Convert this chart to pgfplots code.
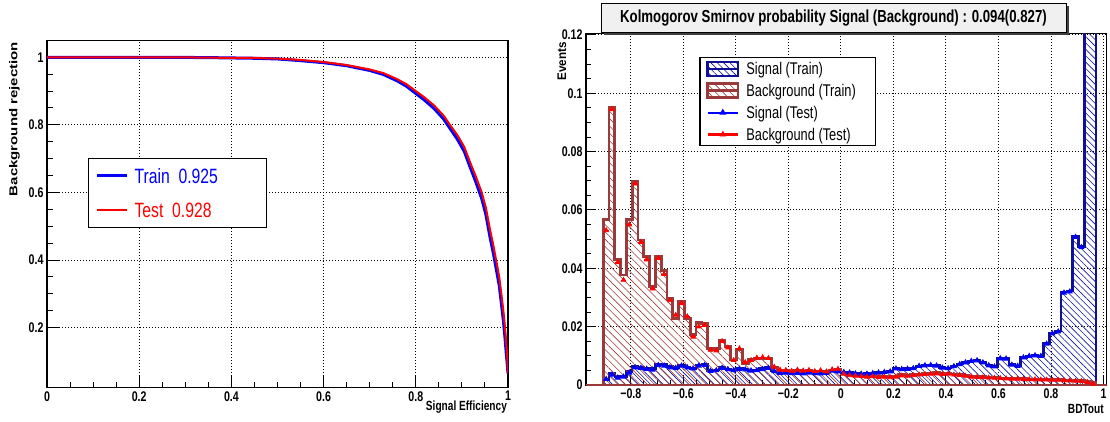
\documentclass[border=0pt]{standalone}
\usepackage{fontspec}
\setmainfont{Liberation Sans}[FakeStretch=0.76]
\newfontfamily\rotfont{Liberation Sans}[FakeStretch=1.316]
\newfontfamily\rotfontb{Liberation Sans}[FakeStretch=0.93]
\usepackage{pgfplots}
\pgfplotsset{compat=1.18}
\usepackage{pgfplotstable}
\usetikzlibrary{patterns.meta,shadows}

\definecolor{sigline}{RGB}{16,16,150}
\definecolor{bkgline}{RGB}{155,58,58}
\definecolor{sigtest}{RGB}{0,0,255}
\definecolor{bkgtest}{RGB}{255,0,0}

\newcommand\tickfont{\fontsize{14}{14}\selectfont\bfseries}
\newcommand\xlabfont{\fontsize{13.3}{13.3}\selectfont\bfseries}
\newcommand\ylabfont{\rotfont\fontsize{11.4}{11.4}\selectfont\bfseries}

% BDT response histograms: left bin edge, train / test contents, bin centre
\pgfplotstableread{
xl      sig     bkg     sigT    bkgT    xc
-0.9707 0       0       nan     nan     nan
-0.9050 0.0017  0.0568  0.0020  0.0530  -0.8940
-0.8829 0.0040  0.0952  0.0035  0.0945  -0.8719
-0.8609 0.0029  0.0431  0.0025  0.0420  -0.8498
-0.8388 0.0030  0.0377  0.0028  0.0360  -0.8278
-0.8167 0.0046  0.0566  0.0042  0.0550  -0.8057
-0.7947 0.0063  0.0697  0.0060  0.0690  -0.7836
-0.7726 0.0060  0.0497  0.0058  0.0490  -0.7616
-0.7505 0.0057  0.0440  0.0055  0.0430  -0.7395
-0.7284 0.0056  0.0337  0.0052  0.0330  -0.7174
-0.7064 0.0070  0.0442  0.0068  0.0435  -0.6953
-0.6843 0.0070  0.0392  0.0066  0.0380  -0.6733
-0.6622 0.0063  0.0297  0.0060  0.0290  -0.6512
-0.6402 0.0060  0.0229  0.0058  0.0240  -0.6291
-0.6181 0.0069  0.0286  0.0066  0.0280  -0.6071
-0.5960 0.0062  0.0229  0.0060  0.0235  -0.5850
-0.5740 0.0057  0.0174  0.0056  0.0165  -0.5629
-0.5519 0.0069  0.0214  0.0066  0.0200  -0.5409
-0.5298 0.0070  0.0212  0.0068  0.0205  -0.5188
-0.5077 0.0050  0.0126  0.0048  0.0120  -0.4967
-0.4857 0.0051  0.0124  0.0050  0.0118  -0.4746
-0.4636 0.0060  0.0154  0.0058  0.0150  -0.4526
-0.4415 0.0055  0.0131  0.0054  0.0128  -0.4305
-0.4195 0.0052  0.0086  0.0050  0.0085  -0.4084
-0.3974 0.0057  0.0122  0.0055  0.0125  -0.3864
-0.3753 0.0055  0.0074  0.0053  0.0078  -0.3643
-0.3533 0.0050  0.0088  0.0049  0.0085  -0.3422
-0.3312 0.0052  0.0091  0.0050  0.0093  -0.3202
-0.3091 0.0056  0.0092  0.0054  0.0095  -0.2981
-0.2870 0.0060  0.0090  0.0058  0.0092  -0.2760
-0.2650 0.0048  0.0060  0.0047  0.0062  -0.2539
-0.2429 0.0042  0.0050  0.0041  0.0052  -0.2319
-0.2208 0.0043  0.0049  0.0042  0.0051  -0.2098
-0.1988 0.0041  0.0046  0.0040  0.0048  -0.1877
-0.1767 0.0042  0.0050  0.0041  0.0052  -0.1657
-0.1546 0.0040  0.0047  0.0039  0.0049  -0.1436
-0.1326 0.0043  0.0049  0.0042  0.0051  -0.1215
-0.1105 0.0041  0.0045  0.0040  0.0047  -0.0995
-0.0884 0.0040  0.0048  0.0039  0.0050  -0.0774
-0.0663 0.0042  0.0044  0.0041  0.0046  -0.0553
-0.0443 0.0050  0.0050  0.0049  0.0053  -0.0332
-0.0222 0.0047  0.0052  0.0046  0.0055  -0.0112
 0.0000 0.0045  0.0040  0.0044  0.0038  0.0109
 0.0219 0.0043  0.0035  0.0042  0.0033  0.0330
 0.0440 0.0040  0.0033  0.0039  0.0031  0.0550
 0.0661 0.0038  0.0032  0.0038  0.0030  0.0771
 0.0882 0.0039  0.0030  0.0038  0.0028  0.0992
 0.1102 0.0041  0.0031  0.0040  0.0029  0.1212
 0.1323 0.0043  0.0029  0.0042  0.0027  0.1433
 0.1544 0.0045  0.0030  0.0044  0.0028  0.1654
 0.1764 0.0047  0.0028  0.0046  0.0026  0.1875
 0.1985 0.0057  0.0030  0.0056  0.0028  0.2095
 0.2206 0.0055  0.0035  0.0054  0.0032  0.2316
 0.2426 0.0056  0.0034  0.0055  0.0031  0.2537
 0.2647 0.0058  0.0036  0.0057  0.0033  0.2757
 0.2868 0.0066  0.0038  0.0065  0.0035  0.2978
 0.3089 0.0068  0.0040  0.0067  0.0037  0.3199
 0.3309 0.0069  0.0041  0.0068  0.0038  0.3419
 0.3530 0.0067  0.0042  0.0066  0.0039  0.3640
 0.3751 0.0060  0.0040  0.0059  0.0037  0.3861
 0.3971 0.0058  0.0041  0.0057  0.0038  0.4082
 0.4192 0.0065  0.0038  0.0064  0.0035  0.4302
 0.4413 0.0072  0.0037  0.0071  0.0034  0.4523
 0.4633 0.0078  0.0033  0.0077  0.0031  0.4744
 0.4854 0.0083  0.0030  0.0082  0.0028  0.4964
 0.5075 0.0085  0.0029  0.0084  0.0027  0.5185
 0.5296 0.0078  0.0028  0.0077  0.0026  0.5406
 0.5516 0.0068  0.0026  0.0067  0.0025  0.5626
 0.5737 0.0064  0.0025  0.0063  0.0024  0.5847
 0.5958 0.0092  0.0024  0.0091  0.0023  0.6068
 0.6178 0.0091  0.0023  0.0090  0.0022  0.6289
 0.6399 0.0070  0.0022  0.0069  0.0021  0.6509
 0.6620 0.0066  0.0022  0.0065  0.0021  0.6730
 0.6840 0.0095  0.0021  0.0094  0.0020  0.6951
 0.7061 0.0100  0.0020  0.0099  0.0019  0.7171
 0.7282 0.0102  0.0020  0.0101  0.0019  0.7392
 0.7503 0.0100  0.0019  0.0099  0.0018  0.7613
 0.7723 0.0143  0.0019  0.0141  0.0018  0.7833
 0.7944 0.0178  0.0018  0.0176  0.0017  0.8054
 0.8165 0.0185  0.0018  0.0183  0.0017  0.8275
 0.8385 0.0318  0.0017  0.0316  0.0016  0.8496
 0.8606 0.0322  0.0016  0.0320  0.0015  0.8716
 0.8827 0.0509  0.0016  0.0507  0.0014  0.8937
 0.9047 0.0474  0.0015  0.0472  0.0013  0.9158
 0.9268 0.2000  0.0013  nan     0.0010  0.9378
 0.9489 0.2000  0.0010  nan     0.0004  0.9599
 0.9710 0       0       nan     nan     nan
 1.0114 0       0       nan     nan     nan
}\bdt

\begin{document}
\begin{tikzpicture}
\useasboundingbox (0,0) rectangle (1110pt,421pt);

% ---------------- ROC curve ----------------
\begin{axis}[
  at={(47pt,33.3pt)}, anchor=south west,
  scale only axis, width=461pt, height=347pt,
  xmin=0, xmax=1, ymin=0.0225, ymax=1.049,
  xtick={0,0.2,0.4,0.6,0.8,1}, ytick={0.2,0.4,0.6,0.8,1},
  minor x tick num=3, minor y tick num=3,
  xtick pos=bottom, ytick pos=left, tick align=inside,
  major tick length=12pt, minor tick length=6pt,
  tick style={black, line width=1pt},
  grid=major,
  major grid style={black, line width=1pt, dash pattern=on 1pt off 2pt},
  axis line style={line width=1.5pt},
  /pgf/number format/assume math mode=true,
  ticklabel style={font=\tickfont},
  xlabel={Signal Efficiency},
  xlabel style={at={(axis description cs:0.998,-0.066)}, anchor=base east,
                inner sep=0pt, font=\xlabfont},
  ylabel={Background rejection},
  ylabel style={at={(axis description cs:-0.0705,0.997)}, anchor=east,
                inner sep=0pt, font=\ylabfont},
  legend style={at={(0.0889,0.662)}, anchor=north west, draw=black,
                line width=1.2pt, fill=white, inner xsep=7pt, inner ysep=0pt,
                row sep=0pt, column sep=6pt,
                nodes={inner sep=0pt, anchor=west, text height=24.5pt, text depth=10pt},
                font=\fontsize{20.7}{20.7}\selectfont},
  legend image code/.code={\draw[#1] (0pt,0pt) -- (30pt,0pt);},
]
\addplot[sigtest, line width=3pt] coordinates {
 (0,1.000) (0.05,1.000) (0.10,1.000) (0.15,1.000) (0.20,1.000) (0.25,1.000)
 (0.30,0.9995) (0.35,0.999) (0.40,0.998) (0.45,0.997) (0.50,0.995)
 (0.55,0.990) (0.60,0.984) (0.65,0.975) (0.70,0.961) (0.73,0.949)
 (0.76,0.930) (0.78,0.914) (0.80,0.893) (0.82,0.872) (0.84,0.848)
 (0.86,0.818) (0.874,0.790) (0.89,0.758) (0.905,0.722) (0.9176,0.676)
 (0.93,0.632) (0.943,0.582) (0.952,0.535) (0.961,0.468) (0.968,0.422)
 (0.975,0.370) (0.981,0.325) (0.986,0.268) (0.990,0.220) (0.9935,0.170)
 (0.9965,0.120) (0.9985,0.090) (1.0,0.065)};
\addlegendentry{\makebox[125pt][l]{\textcolor{sigtest}{Train\ \ 0.925}}}
\addplot[bkgtest, line width=2pt] coordinates {
 (0,1.000) (0.05,1.000) (0.10,1.000) (0.15,1.000) (0.20,1.000) (0.25,1.000)
 (0.30,0.9995) (0.35,0.999) (0.40,0.998) (0.45,0.998) (0.50,0.996)
 (0.55,0.992) (0.60,0.986) (0.65,0.977) (0.70,0.964) (0.73,0.953)
 (0.76,0.935) (0.78,0.920) (0.80,0.900) (0.82,0.880) (0.84,0.857)
 (0.86,0.828) (0.874,0.800) (0.89,0.770) (0.905,0.735) (0.9176,0.690)
 (0.93,0.648) (0.943,0.600) (0.952,0.555) (0.961,0.490) (0.968,0.445)
 (0.975,0.395) (0.981,0.350) (0.986,0.295) (0.990,0.250) (0.9935,0.200)
 (0.9965,0.150) (0.9985,0.110) (1.0,0.065)};
\addlegendentry{\makebox[125pt][l]{\textcolor{bkgtest}{Test\ \ 0.928}}}
\end{axis}

% ---------------- BDT output ----------------
\begin{axis}[
  at={(586pt,36pt)}, anchor=south west,
  scale only axis, width=520.5pt, height=351.5pt,
  xmin=-0.9707, xmax=1.0114, ymin=0, ymax=0.1205,
  xtick={-0.8,-0.6,-0.4,-0.2,0,0.2,0.4,0.6,0.8,1},
  xticklabels={−0.8,−0.6,−0.4,−0.2,0,0.2,0.4,0.6,0.8,1},
  ytick={0,0.02,0.04,0.06,0.08,0.1,0.12},
  yticklabels={0,0.02,0.04,0.06,0.08,0.1,0.12},
  minor x tick num=3, minor y tick num=3,
  xtick pos=bottom, ytick pos=left, tick align=inside,
  major tick length=10pt, minor tick length=5pt,
  tick style={black, line width=1pt},
  grid=major,
  major grid style={black, line width=1pt, dash pattern=on 1pt off 2pt},
  axis line style={line width=1.5pt},
  ticklabel style={font=\tickfont},
  xlabel={BDTout},
  xlabel style={at={(axis description cs:0.995,-0.0797)}, anchor=base east,
                inner sep=0pt, font=\xlabfont},
  ylabel={Events},
  ylabel style={at={(axis description cs:-0.0462,0.976)}, anchor=east,
                inner sep=0pt, font=\rotfontb\fontsize{12.5}{12.5}\selectfont\bfseries},
  title={Kolmogorov Smirnov probability Signal (Background) : 0.094(0.827)},
  every axis title/.style={at={(axis description cs:0.4755,1.0427)}, anchor=center,
               draw=black, line width=1pt, fill=black!6,
               minimum width=465pt, minimum height=29pt, inner sep=0pt,
               font=\fontsize{17.4}{17.4}\selectfont\bfseries,
               drop shadow={shadow xshift=2.5pt, shadow yshift=-2.5pt,
                            fill=black!75, opacity=1}},
  legend style={at={(0.2179,0.9323)}, anchor=north west, draw=black,
                line width=1.2pt, fill=white, inner xsep=6.2pt, inner ysep=0pt,
                row sep=0pt, column sep=7pt,
                nodes={inner sep=0pt, anchor=west, text height=17.05pt, text depth=4.85pt},
                font=\fontsize{16.9}{16.9}\selectfont},
]
% signal, training sample
\addplot[const plot mark left, draw=sigline, line width=2.5pt,
  pattern={Lines[angle=-45,distance=4.5pt,line width=0.6pt]}, pattern color=sigline,
  legend image code/.code={
    \fill[pattern={Lines[angle=-45,distance=4.5pt,line width=0.6pt]}, pattern color=sigline]
      (0pt,-7pt) rectangle (30.4pt,7pt);
    \draw[sigline, line width=2.5pt] (0pt,0pt) -- (30.4pt,0pt);}]
  table[x=xl, y=sig] {\bdt} \closedcycle;
\addlegendentry{\makebox[123pt][l]{Signal (Train)}}
% background, training sample
\addplot[const plot mark left, draw=bkgline, line width=2.8pt,
  pattern={Lines[angle=-45,distance=5.2pt,line width=0.6pt]}, pattern color=bkgline,
  legend image code/.code={
    \fill[pattern={Lines[angle=-45,distance=5.2pt,line width=0.6pt]}, pattern color=bkgline]
      (0pt,-7pt) rectangle (30.4pt,7pt);
    \draw[bkgline, line width=2.5pt] (0pt,0pt) -- (30.4pt,0pt);}]
  table[x=xl, y=bkg] {\bdt} \closedcycle;
\addlegendentry{\makebox[123pt][l]{Background (Train)}}
% signal, test sample: bin-width bars with markers
\addplot[jump mark mid, draw=sigtest, line width=1pt,
  mark=triangle*, mark size=2.6pt, mark options={fill=sigtest, draw=sigtest},
  restrict x to domain=-1:0.925,
  legend image code/.code={
    \draw[sigtest, line width=2.2pt] (0pt,0pt) -- (30.4pt,0pt);
    \draw[sigtest] plot[mark=triangle*, mark size=3pt] coordinates {(15.2pt,0pt)};}]
  table[x=xc, y=sigT] {\bdt};
\addlegendentry{\makebox[123pt][l]{Signal (Test)}}
% background, test sample
\addplot[jump mark mid, draw=bkgtest, line width=0.8pt,
  mark=triangle*, mark size=2.6pt, mark options={fill=bkgtest, draw=bkgtest},
  legend image code/.code={
    \draw[bkgtest, line width=2.2pt] (0pt,0pt) -- (30.4pt,0pt);
    \draw[bkgtest] plot[mark=triangle*, mark size=3pt] coordinates {(15.2pt,0pt)};}]
  table[x=xc, y=bkgT] {\bdt};
\addlegendentry{\makebox[123pt][l]{Background (Test)}}
\end{axis}
\end{tikzpicture}
\end{document}
